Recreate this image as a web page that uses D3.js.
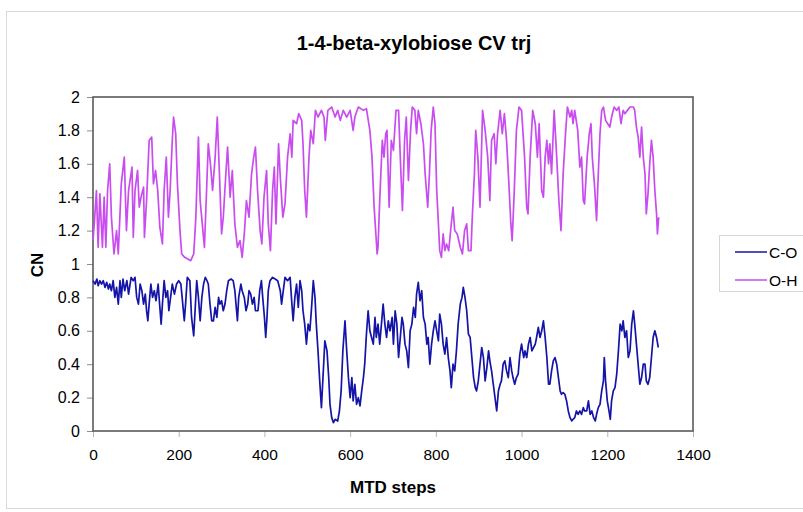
<!DOCTYPE html>
<html>
<head>
<meta charset="utf-8">
<script src="https://cdn.jsdelivr.net/npm/d3@7/dist/d3.min.js"></script>
<style>
  body { margin: 0; background: #fff; }
  svg text { font-family: "Liberation Sans", Arial, sans-serif; fill: #000; }
</style>
</head>
<body>
<svg id="chart" width="803" height="512"></svg>
<script>
// chart texts
let chart_title = "1-4-beta-xylobiose CV trj";
let x_title = "MTD steps";
let y_title = "CN";
let series_names = ["C-O", "O-H"];
let series_colors = ["#1414a8", "#c94cf0"];

let x_ticks = [0, 200, 400, 600, 800, 1000, 1200, 1400];
let y_ticks = [0, 0.2, 0.4, 0.6, 0.8, 1, 1.2, 1.4, 1.6, 1.8, 2];

// [MTD step, CN]
let co_trace = [[0,0.9],[5,0.88],[9,0.91],[12,0.87],[16,0.9],[20,0.88],[24,0.9],[28,0.86],[32,0.89],[36,0.85],[39,0.88],[43,0.84],[47,0.9],[51,0.8],[55,0.86],[59,0.76],[63,0.9],[66,0.8],[70,0.91],[74,0.84],[79,0.9],[83,0.82],[89,0.92],[94,0.9],[98,0.92],[102,0.8],[106,0.76],[110,0.88],[114,0.84],[118,0.76],[122,0.82],[125,0.72],[128,0.66],[131,0.76],[135,0.88],[139,0.8],[143,0.84],[147,0.78],[152,0.88],[156,0.74],[159,0.64],[162,0.76],[166,0.9],[170,0.8],[174,0.84],[177,0.72],[182,0.82],[185,0.88],[190,0.82],[195,0.88],[200,0.9],[205,0.88],[208,0.8],[213,0.66],[216,0.76],[220,0.92],[226,0.9],[230,0.68],[235,0.57],[239,0.76],[242,0.9],[246,0.8],[250,0.66],[254,0.8],[258,0.88],[262,0.92],[266,0.9],[269,0.88],[273,0.76],[277,0.66],[281,0.66],[285,0.74],[289,0.68],[293,0.8],[296,0.76],[300,0.78],[304,0.72],[308,0.76],[312,0.84],[316,0.9],[322,0.91],[327,0.9],[331,0.84],[335,0.72],[337,0.66],[340,0.8],[345,0.88],[348,0.84],[353,0.8],[357,0.72],[361,0.76],[364,0.84],[368,0.82],[372,0.76],[376,0.8],[379,0.72],[385,0.72],[389,0.84],[393,0.9],[396,0.8],[400,0.68],[403,0.56],[406,0.68],[409,0.84],[413,0.9],[419,0.92],[425,0.91],[431,0.9],[437,0.84],[440,0.76],[444,0.84],[448,0.92],[454,0.9],[460,0.92],[463,0.8],[467,0.66],[471,0.8],[475,0.88],[479,0.74],[483,0.9],[487,0.84],[490,0.72],[494,0.64],[498,0.52],[502,0.64],[506,0.6],[510,0.74],[514,0.9],[518,0.8],[521,0.64],[525,0.48],[529,0.3],[533,0.14],[537,0.34],[541,0.54],[546,0.48],[550,0.32],[553,0.16],[557,0.08],[561,0.05],[565,0.07],[571,0.06],[575,0.12],[579,0.24],[583,0.48],[588,0.66],[592,0.48],[596,0.32],[600,0.2],[604,0.32],[607,0.18],[611,0.28],[615,0.16],[619,0.2],[623,0.15],[627,0.24],[631,0.32],[634,0.4],[638,0.58],[642,0.72],[646,0.6],[650,0.56],[654,0.52],[658,0.68],[661,0.56],[665,0.64],[669,0.52],[673,0.64],[677,0.76],[681,0.64],[685,0.56],[689,0.66],[693,0.6],[698,0.68],[701,0.52],[705,0.72],[709,0.64],[713,0.44],[717,0.56],[721,0.68],[724,0.64],[728,0.52],[732,0.48],[736,0.38],[740,0.6],[744,0.64],[748,0.74],[752,0.68],[755,0.82],[759,0.89],[763,0.78],[767,0.84],[771,0.68],[775,0.64],[779,0.52],[782,0.56],[786,0.4],[790,0.52],[794,0.6],[798,0.66],[802,0.6],[806,0.54],[809,0.7],[813,0.64],[817,0.52],[821,0.46],[825,0.56],[829,0.44],[833,0.36],[836,0.26],[840,0.4],[844,0.36],[848,0.48],[852,0.64],[857,0.76],[861,0.8],[864,0.86],[868,0.8],[872,0.72],[876,0.58],[880,0.56],[884,0.44],[888,0.32],[892,0.26],[895,0.24],[899,0.3],[903,0.4],[907,0.5],[911,0.44],[915,0.3],[919,0.38],[923,0.48],[926,0.42],[930,0.36],[934,0.28],[938,0.2],[942,0.12],[946,0.24],[950,0.28],[953,0.3],[957,0.4],[961,0.42],[965,0.36],[969,0.32],[973,0.44],[977,0.36],[980,0.32],[984,0.28],[988,0.32],[992,0.34],[996,0.46],[1000,0.52],[1005,0.44],[1008,0.48],[1012,0.44],[1016,0.52],[1020,0.56],[1024,0.48],[1028,0.5],[1032,0.52],[1035,0.56],[1039,0.62],[1043,0.56],[1047,0.6],[1051,0.66],[1055,0.56],[1059,0.44],[1063,0.28],[1066,0.28],[1070,0.36],[1074,0.42],[1078,0.44],[1082,0.4],[1086,0.32],[1090,0.24],[1093,0.22],[1097,0.23],[1101,0.22],[1105,0.18],[1109,0.12],[1113,0.08],[1117,0.06],[1120,0.07],[1124,0.08],[1128,0.12],[1132,0.1],[1136,0.12],[1140,0.1],[1144,0.14],[1147,0.12],[1152,0.12],[1156,0.18],[1160,0.1],[1164,0.12],[1168,0.08],[1172,0.06],[1175,0.1],[1179,0.14],[1183,0.16],[1187,0.24],[1191,0.3],[1193,0.44],[1196,0.3],[1200,0.18],[1204,0.12],[1207,0.07],[1210,0.18],[1214,0.24],[1218,0.26],[1222,0.34],[1226,0.48],[1230,0.64],[1234,0.6],[1237,0.66],[1241,0.56],[1245,0.6],[1249,0.44],[1253,0.48],[1257,0.64],[1261,0.72],[1264,0.64],[1268,0.52],[1272,0.4],[1276,0.28],[1280,0.32],[1284,0.4],[1288,0.4],[1291,0.3],[1295,0.28],[1299,0.32],[1303,0.44],[1307,0.56],[1311,0.6],[1315,0.56],[1319,0.5]];

let oh_trace = [[0,1.14],[4,1.28],[8,1.44],[12,1.1],[16,1.42],[22,1.1],[26,1.4],[30,1.1],[34,1.44],[39,1.6],[43,1.28],[49,1.06],[55,1.2],[59,1.06],[66,1.48],[73,1.64],[78,1.2],[83,1.44],[91,1.58],[94,1.16],[98,1.44],[104,1.56],[108,1.34],[112,1.4],[118,1.46],[120,1.16],[125,1.38],[131,1.74],[137,1.76],[141,1.48],[146,1.56],[151,1.44],[156,1.22],[162,1.12],[166,1.44],[171,1.64],[176,1.28],[180,1.44],[185,1.74],[188,1.88],[193,1.78],[197,1.48],[203,1.2],[207,1.06],[214,1.04],[221,1.03],[228,1.02],[235,1.06],[240,1.28],[246,1.76],[250,1.38],[255,1.24],[260,1.1],[265,1.44],[269,1.72],[274,1.6],[279,1.44],[285,1.64],[290,1.88],[295,1.54],[300,1.18],[304,1.28],[310,1.54],[314,1.7],[320,1.4],[325,1.56],[331,1.24],[337,1.1],[343,1.14],[348,1.04],[353,1.18],[358,1.38],[364,1.28],[370,1.54],[375,1.64],[379,1.7],[384,1.44],[390,1.2],[394,1.12],[399,1.4],[405,1.56],[409,1.24],[414,1.08],[419,1.44],[423,1.58],[427,1.24],[433,1.72],[437,1.52],[443,1.28],[448,1.36],[454,1.64],[460,1.78],[464,1.64],[467,1.86],[475,1.84],[480,1.9],[487,1.86],[490,1.72],[494,1.44],[498,1.28],[504,1.64],[508,1.8],[514,1.72],[519,1.92],[525,1.88],[533,1.92],[539,1.88],[542,1.74],[548,1.92],[557,1.94],[565,1.88],[571,1.92],[577,1.86],[584,1.92],[592,1.88],[600,1.92],[607,1.8],[611,1.88],[619,1.94],[631,1.92],[638,1.93],[646,1.8],[651,1.64],[656,1.34],[659,1.22],[663,1.06],[665,1.1],[669,1.38],[675,1.74],[679,1.64],[683,1.78],[686,1.8],[691,1.34],[696,1.74],[701,1.68],[707,1.92],[713,1.92],[717,1.64],[722,1.32],[727,1.74],[731,1.88],[736,1.5],[741,1.8],[745,1.94],[751,1.92],[755,1.78],[759,1.92],[765,1.84],[771,1.72],[775,1.54],[781,1.34],[785,1.54],[789,1.8],[794,1.94],[798,1.84],[802,1.44],[806,1.24],[809,1.08],[813,1.04],[817,1.18],[821,1.08],[825,1.12],[830,1.08],[836,1.24],[840,1.34],[844,1.2],[850,1.18],[857,1.1],[862,1.06],[867,1.2],[872,1.24],[876,1.08],[882,1.08],[885,1.28],[890,1.54],[893,1.8],[898,1.64],[903,1.34],[909,1.92],[915,1.8],[921,1.64],[926,1.38],[930,1.74],[936,1.78],[940,1.6],[944,1.78],[950,1.92],[955,1.78],[960,1.9],[965,1.74],[970,1.5],[975,1.24],[978,1.14],[983,1.44],[988,1.8],[994,1.94],[1000,1.92],[1007,1.64],[1012,1.34],[1015,1.3],[1020,1.64],[1026,1.92],[1032,1.84],[1037,1.64],[1041,1.84],[1047,1.44],[1051,1.4],[1055,1.64],[1059,1.74],[1063,1.6],[1066,1.72],[1070,1.54],[1076,1.92],[1082,1.64],[1087,1.38],[1092,1.2],[1097,1.54],[1103,1.8],[1107,1.94],[1113,1.88],[1117,1.92],[1120,1.84],[1124,1.92],[1131,1.8],[1136,1.58],[1140,1.64],[1144,1.38],[1147,1.36],[1153,1.64],[1158,1.78],[1162,1.84],[1165,1.64],[1170,1.48],[1175,1.26],[1179,1.54],[1183,1.78],[1187,1.92],[1191,1.94],[1196,1.86],[1201,1.84],[1206,1.82],[1210,1.88],[1216,1.94],[1222,1.92],[1227,1.94],[1232,1.84],[1237,1.92],[1241,1.9],[1247,1.92],[1253,1.94],[1261,1.94],[1264,1.92],[1268,1.82],[1272,1.76],[1276,1.64],[1280,1.82],[1284,1.64],[1288,1.54],[1291,1.3],[1295,1.42],[1299,1.6],[1303,1.74],[1307,1.64],[1311,1.44],[1315,1.3],[1317,1.18],[1320,1.28]];

let svg = d3.select("#chart");
let plot = { left: 93, right: 693, top: 97, bottom: 431 };

let x = d3.scaleLinear().domain([0, 1400]).range([plot.left, plot.right]);
let y = d3.scaleLinear().domain([0, 2]).range([plot.bottom, plot.top]);

// outer chart frame
svg.append("rect")
    .attr("x", 6.5).attr("y", 11.5)
    .attr("width", 900).attr("height", 497)
    .attr("fill", "#fff")
    .attr("stroke", "#d9dcdc");

svg.append("text")
    .attr("x", 414).attr("y", 50)
    .attr("text-anchor", "middle")
    .style("font-size", "20px").style("font-weight", "bold")
    .text(chart_title);

// axes
let y_axis = d3.axisLeft(y)
    .tickValues(y_ticks)
    .tickFormat(d => String(+d.toFixed(1)))
    .tickSizeInner(6).tickSizeOuter(0).tickPadding(7);

let gy = svg.append("g")
    .attr("transform", "translate(" + plot.left + ",0)")
    .call(y_axis);
gy.select(".domain").remove();
gy.selectAll("line").attr("stroke", "#8c8c8c");
gy.selectAll("text").style("font-size", "16px").attr("fill", "#000");

let x_axis = d3.axisBottom(x)
    .tickValues(x_ticks)
    .tickFormat(d => String(d))
    .tickSizeInner(6).tickSizeOuter(0).tickPadding(12);

let gx = svg.append("g")
    .attr("transform", "translate(0," + plot.bottom + ")")
    .call(x_axis);
gx.select(".domain").remove();
gx.selectAll("line").attr("stroke", "#b5b5b5");
gx.selectAll("text").style("font-size", "15.5px").attr("fill", "#000");

// plot frame
svg.append("rect")
    .attr("x", plot.left).attr("y", plot.top)
    .attr("width", plot.right - plot.left)
    .attr("height", plot.bottom - plot.top)
    .attr("fill", "none")
    .attr("stroke", "#5a5a5a")
    .attr("stroke-width", 1.6);

// series
let line = d3.line()
    .x(d => x(d[0]))
    .y(d => y(d[1]));

[co_trace, oh_trace].forEach(function(trace, i){
    svg.append("path")
        .datum(trace)
        .attr("d", line)
        .attr("fill", "none")
        .attr("stroke", series_colors[i])
        .attr("stroke-width", 1.7)
        .attr("stroke-linejoin", "round");
});

// axis titles
svg.append("text")
    .attr("x", 393).attr("y", 493)
    .attr("text-anchor", "middle")
    .style("font-size", "17px").style("font-weight", "bold")
    .text(x_title);

svg.append("text")
    .attr("transform", "translate(43,265) rotate(-90)")
    .attr("text-anchor", "middle")
    .style("font-size", "17px").style("font-weight", "bold")
    .text(y_title);

// legend
let legend = svg.append("g");
legend.append("rect")
    .attr("x", 719.5).attr("y", 235.5)
    .attr("width", 120).attr("height", 56)
    .attr("fill", "#fff")
    .attr("stroke", "#d6d6d6");

series_names.forEach(function(name, i){
    let ly = 252 + i * 28;
    legend.append("line")
        .attr("x1", 735).attr("x2", 767)
        .attr("y1", ly).attr("y2", ly)
        .attr("stroke", series_colors[i])
        .attr("stroke-width", 1.5);
    legend.append("text")
        .attr("x", 769).attr("y", ly + 6)
        .style("font-size", "15.5px")
        .text(name);
});
</script>
</body>
</html>
